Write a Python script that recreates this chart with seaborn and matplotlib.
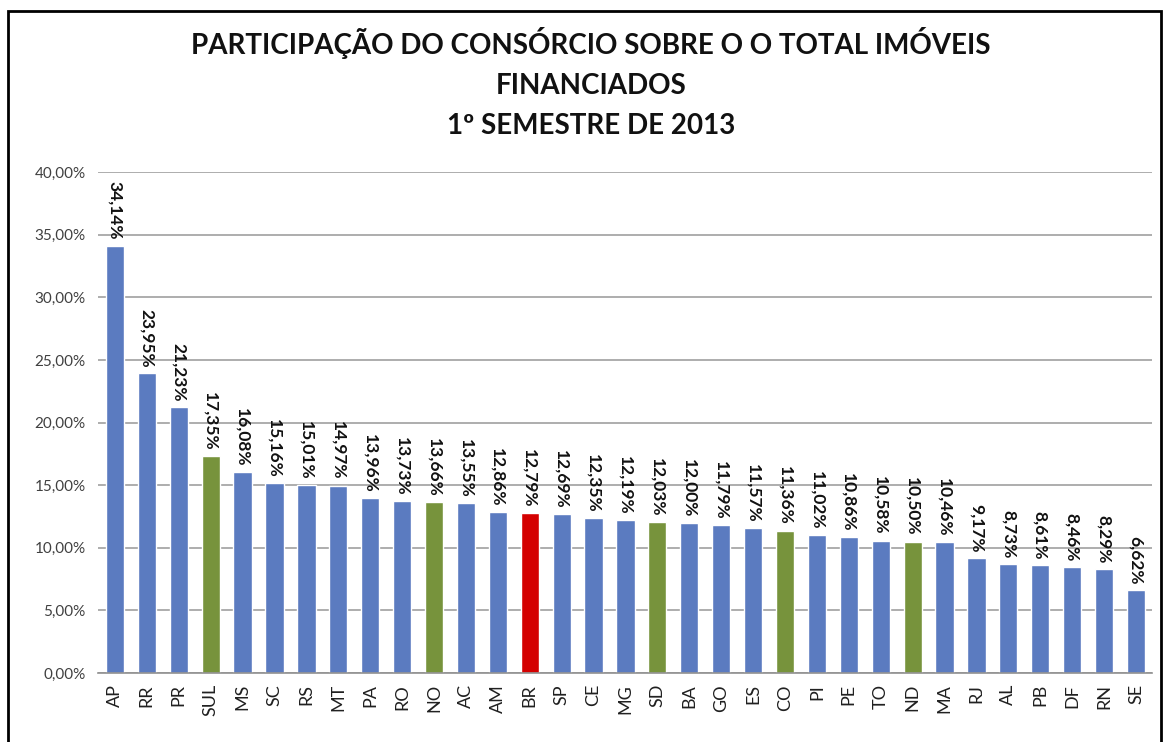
import pandas as pd
import matplotlib.pyplot as plt
import seaborn as sns
from matplotlib.patches import Rectangle

# dados (%)
estados = ['AP', 'RR', 'PR', 'SUL', 'MS', 'SC', 'RS', 'MT', 'PA', 'RO', 'NO', 'AC', 'AM', 'BR',
           'SP', 'CE', 'MG', 'SD', 'BA', 'GO', 'ES', 'CO', 'PI', 'PE', 'TO', 'ND', 'MA', 'RJ',
           'AL', 'PB', 'DF', 'RN', 'SE']
valores = [34.14, 23.95, 21.23, 17.35, 16.08, 15.16, 15.01, 14.97, 13.96, 13.73, 13.66, 13.55,
           12.86, 12.79, 12.69, 12.35, 12.19, 12.03, 12.00, 11.79, 11.57, 11.36, 11.02, 10.86,
           10.58, 10.50, 10.46, 9.17, 8.73, 8.61, 8.46, 8.29, 6.62]
regioes = ['SUL', 'NO', 'SD', 'CO', 'ND']
tipo = ['regiao' if e in regioes else ('brasil' if e == 'BR' else 'estado') for e in estados]
cores = {'estado': '#5B7BC0', 'regiao': '#77933C', 'brasil': '#D40000'}

df = pd.DataFrame({'estado': estados, 'valor': valores, 'tipo': tipo})

sns.set_style('white')
plt.rcParams['font.family'] = ['Lato', 'DejaVu Sans']

fig = plt.figure(figsize=(11.7, 7.42), dpi=100)
ax = fig.add_axes([0.0838, 0.093, 0.9008, 0.675])

sns.barplot(data=df, x='estado', y='valor', hue='tipo', palette=cores, dodge=False,
            width=0.57, legend=False, ax=ax, saturation=1)

ax.set_ylim(0, 40)
ax.set_xlim(-0.53, 32.5)
ax.set_yticks(range(0, 41, 5))
ax.set_yticklabels([f'{v:.2f}%'.replace('.', ',') for v in range(0, 41, 5)],
                   fontsize=11, color='#404040')
ax.tick_params(axis='y', length=5, color='#909090', width=1, pad=4)
ax.tick_params(axis='x', length=0, pad=8)
plt.setp(ax.get_xticklabels(), rotation=90, fontsize=13, color='#202020')
ax.grid(axis='y', color='#A0A0A0', linewidth=1.2)
ax.set_axisbelow(True)
for s in ['left', 'right', 'top']:
    ax.spines[s].set_visible(False)
ax.spines['bottom'].set_color('#909090')
ax.spines['bottom'].set_linewidth(1.2)
ax.set_xlabel('')
ax.set_ylabel('')

for i, v in enumerate(valores):
    ax.annotate(f'{v:.2f}%'.replace('.', ','), (i, v), xytext=(0, 4), textcoords='offset points',
                rotation=-90, ha='center', va='bottom', fontsize=12.5, fontweight='bold',
                color='#111111')

fig.text(0.505, 0.963, 'PARTICIPAÇÃO DO CONSÓRCIO SOBRE O O TOTAL IMÓVEIS\nFINANCIADOS\n1º SEMESTRE DE 2013',
         ha='center', va='top', fontsize=20, fontweight='bold', color='#111111', linespacing=1.65)

# moldura
fig.patches.append(Rectangle((0.007, -0.05), 0.985, 1.035, transform=fig.transFigure,
                             fill=False, edgecolor='black', linewidth=2))

plt.savefig('out.png', dpi=100)
